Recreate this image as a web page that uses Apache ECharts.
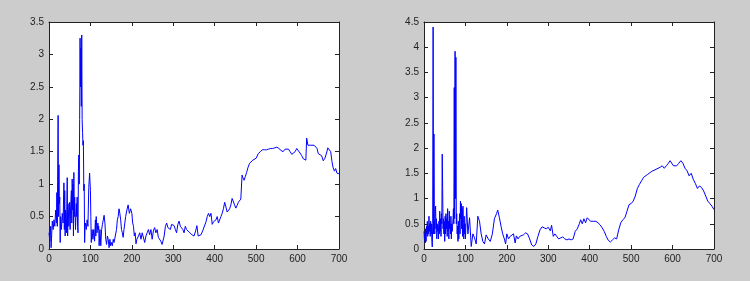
<!DOCTYPE html>
<html><head><meta charset="utf-8">
<script src="https://cdn.jsdelivr.net/npm/echarts@6/dist/echarts.min.js"></script>
<style>html,body{margin:0;padding:0;background:#cccccc;}#c{width:750px;height:281px;}</style>
</head><body><div id="c"></div>
<script>
// Left panel: [x, y] samples
const leftX = [0,2,4,5,8,10,12,14,16,18,19,20,22,23,24,25,26,27,28,30,32,34,36,37,38,39,40,42,44,45,46,48,50,51,52,54,55,56,57,58,59,60,61,62,64,66,67,68,69,70,71,72,73,74,75,76,77,78,79,80,81,82,83,84,85,86,87,88,90,92,94,96,98,100,101,102,104,106,108,110,112,113,114,116,118,119,120,121,123,125,127,129,131,133,135,137,139,141,143,145,147,149,151,153,155,157,160,163,165,167,169,171,173,175,177,179,181,183,185,188,191,194,197,200,202,204,206,208,210,212,214,216,219,222,225,228,231,234,237,240,243,246,249,252,255,258,261,264,267,270,273,275,278,281,284,287,290,293,296,299,302,305,308,311,314,317,320,323,326,329,332,335,340,345,350,354,357,360,363,367,371,375,379,382,385,388,391,394,397,400,403,406,409,412,415,418,421,424,427,430,433,436,439,442,445,448,451,454,457,460,463,465,466,468,471,474,477,480,484,488,492,496,500,505,510,515,520,525,530,535,540,545,550,555,560,565,570,574,578,582,586,590,594,598,602,606,610,614,618,620,622,625,628,632,636,640,644,647,650,654,658,662,666,670,673,677,680,683,686,689,692,695,698,700];
const leftY = [0.25,0.12,0.35,0.02,0.43,0.3,0.45,0.35,0.6,0.4,0.87,0.35,2.06,0.5,1.3,0.7,0.8,0.1,0.5,0.3,0.55,0.4,1.02,0.3,0.9,0.2,0.6,0.25,1.1,0.2,0.7,0.35,0.72,0.3,0.6,0.9,0.4,1.08,0.6,1.0,0.2,1.18,0.5,0.8,0.3,0.7,0.5,0.8,0.35,0.25,1.2,1.45,1.0,2.0,3.25,2.5,3.1,2.2,3.3,2.0,1.8,1.6,1.67,0.9,1.0,0.1,0.35,0.4,0.3,0.45,0.35,0.95,1.17,0.9,0.5,0.1,0.3,0.15,0.3,0.12,0.45,0.2,0.5,0.25,0.4,0.3,0.35,0.05,0.3,0.05,0.3,0.38,0.35,0.52,0.4,0.15,0.07,0.2,0.15,0.02,0.15,0.05,0.1,0.05,0.15,0.1,0.2,0.3,0.45,0.5,0.62,0.55,0.45,0.3,0.25,0.18,0.3,0.4,0.5,0.6,0.68,0.55,0.62,0.55,0.4,0.35,0.2,0.25,0.08,0.15,0.12,0.2,0.25,0.15,0.25,0.22,0.1,0.2,0.25,0.3,0.22,0.3,0.15,0.28,0.33,0.25,0.3,0.18,0.2,0.12,0.07,0.05,0.2,0.35,0.4,0.33,0.35,0.3,0.38,0.4,0.36,0.3,0.25,0.38,0.43,0.35,0.38,0.3,0.25,0.35,0.3,0.27,0.25,0.22,0.2,0.28,0.36,0.2,0.17,0.22,0.28,0.3,0.42,0.5,0.55,0.5,0.55,0.38,0.42,0.4,0.45,0.5,0.4,0.42,0.5,0.55,0.62,0.72,0.65,0.57,0.6,0.62,0.68,0.78,0.8,0.68,0.63,0.67,0.72,0.75,0.77,0.78,1.14,1.1,1.06,1.12,1.18,1.25,1.32,1.35,1.37,1.36,1.4,1.47,1.5,1.53,1.53,1.53,1.54,1.55,1.55,1.56,1.57,1.55,1.52,1.5,1.54,1.57,1.54,1.5,1.46,1.44,1.5,1.55,1.52,1.48,1.44,1.39,1.36,1.37,1.71,1.6,1.57,1.6,1.59,1.6,1.61,1.55,1.47,1.45,1.44,1.36,1.4,1.48,1.56,1.55,1.5,1.35,1.25,1.2,1.24,1.17,1.15,1.16];

// Right panel
const rightX = [0,1,2,3,4,5,6,7,8,9,10,11,12,13,14,15,16,17,18,19,20,21,22,23,24,25,26,27,28,29,30,31,32,33,34,35,36,37,38,39,40,41,42,43,44,45,46,47,48,49,50,51,52,53,54,55,56,57,58,59,60,61,62,63,64,65,66,67,68,69,70,71,72,73,74,75,76,77,78,79,80,81,82,83,84,85,86,87,88,89,90,91,92,93,94,95,96,97,98,99,100,103,106,110,114,118,122,126,130,134,138,142,146,150,155,160,165,170,175,178,182,186,190,194,197,200,204,208,212,216,220,223,227,231,235,240,245,250,255,260,265,270,275,280,285,290,295,300,305,308,312,316,320,325,330,335,340,345,350,355,360,365,370,375,378,382,386,390,394,398,402,406,410,415,420,425,430,435,440,445,450,455,460,465,470,475,480,485,490,495,500,505,510,515,520,525,530,540,550,560,570,575,580,585,590,594,598,602,606,610,615,620,625,630,635,640,645,650,655,660,665,670,675,680,685,690,695,700];
const rightY = [0.35,0.2,0.3,0.12,0.4,0.15,0.45,0.3,0.55,0.25,0.45,0.3,0.65,0.35,0.5,0.25,0.55,0.3,0.5,0.15,0.04,0.5,4.4,0.3,2.28,0.6,0.3,0.7,0.85,0.4,0.6,0.2,0.5,0.35,0.45,0.2,0.55,0.3,0.75,0.35,0.6,0.25,0.7,0.5,1.88,1.2,0.4,0.6,0.3,0.55,0.15,0.65,0.3,0.7,0.4,0.6,0.25,0.8,0.35,0.55,0.2,0.75,0.4,0.5,0.3,0.65,0.2,0.5,0.35,0.45,0.6,0.8,0.5,3.2,0.6,3.92,1.0,3.8,0.5,0.7,0.3,0.45,0.15,0.55,0.2,0.5,0.7,0.3,0.95,0.6,0.9,0.4,0.8,0.25,0.85,0.5,0.2,0.65,0.3,0.5,0.2,0.82,0.3,0.62,0.05,0.3,0.22,0.1,0.65,0.55,0.3,0.15,0.1,0.28,0.2,0.15,0.3,0.6,0.7,0.77,0.62,0.45,0.3,0.2,0.1,0.3,0.2,0.25,0.28,0.3,0.12,0.26,0.2,0.25,0.23,0.28,0.32,0.3,0.2,0.08,0.05,0.1,0.25,0.38,0.44,0.42,0.4,0.43,0.36,0.47,0.25,0.3,0.3,0.2,0.22,0.24,0.2,0.18,0.2,0.18,0.2,0.35,0.4,0.5,0.58,0.5,0.6,0.52,0.62,0.6,0.55,0.58,0.55,0.55,0.52,0.48,0.42,0.35,0.25,0.17,0.14,0.18,0.22,0.2,0.38,0.52,0.58,0.62,0.75,0.88,0.9,0.95,1.05,1.2,1.28,1.35,1.42,1.48,1.54,1.58,1.62,1.65,1.6,1.65,1.7,1.75,1.72,1.65,1.62,1.65,1.7,1.75,1.7,1.6,1.55,1.45,1.5,1.38,1.3,1.2,1.25,1.22,1.15,1.05,0.95,0.9,0.85,0.78];

const xTicks = {min: 0, max: 700, interval: 100};
const leftYTicks = {min: 0, max: 3.5, interval: 0.5};
const rightYTicks = {min: 0, max: 4.5, interval: 0.5};

const pair = (xs, ys) => xs.map((x, i) => [x, ys[i]]);
const lineCol = '#222';
const lbl = {color: '#222', fontFamily: 'Liberation Sans, Arial', fontSize: 10, margin: 5};
function xAx(grid, pos, show) {
  return {type: 'value', gridIndex: grid, position: pos, min: xTicks.min, max: xTicks.max, interval: xTicks.interval,
    axisLine: {show: true, onZero: false, lineStyle: {color: lineCol, width: 1}},
    axisTick: {show: true, inside: true, length: 4, lineStyle: {color: lineCol}},
    axisLabel: Object.assign({show: show}, lbl), splitLine: {show: false}};
}
function yAx(grid, pos, show, t) {
  return {type: 'value', gridIndex: grid, position: pos, min: t.min, max: t.max, interval: t.interval,
    axisLine: {show: true, onZero: false, lineStyle: {color: lineCol, width: 1}},
    axisTick: {show: true, inside: true, length: 4, lineStyle: {color: lineCol}},
    axisLabel: Object.assign({show: show}, lbl), splitLine: {show: false}};
}
const chart = echarts.init(document.getElementById('c'), null, {renderer: 'canvas'});
chart.setOption({
  backgroundColor: '#cccccc',
  animation: false,
  grid: [
    {left: 49, top: 22, width: 290, height: 227, show: true, backgroundColor: '#ffffff', borderWidth: 0},
    {left: 424, top: 22, width: 290, height: 227, show: true, backgroundColor: '#ffffff', borderWidth: 0}
  ],
  xAxis: [xAx(0, 'bottom', true), xAx(0, 'top', false), xAx(1, 'bottom', true), xAx(1, 'top', false)],
  yAxis: [yAx(0, 'left', true, leftYTicks), yAx(0, 'right', false, leftYTicks), yAx(1, 'left', true, rightYTicks), yAx(1, 'right', false, rightYTicks)],
  series: [
    {type: 'line', xAxisIndex: 0, yAxisIndex: 0, data: pair(leftX, leftY), showSymbol: false, symbol: 'none',
     lineStyle: {color: '#0000ff', width: 1}},
    {type: 'line', xAxisIndex: 2, yAxisIndex: 2, data: pair(rightX, rightY), showSymbol: false, symbol: 'none',
     lineStyle: {color: '#0000ff', width: 1}}
  ]
});
</script></body></html>
